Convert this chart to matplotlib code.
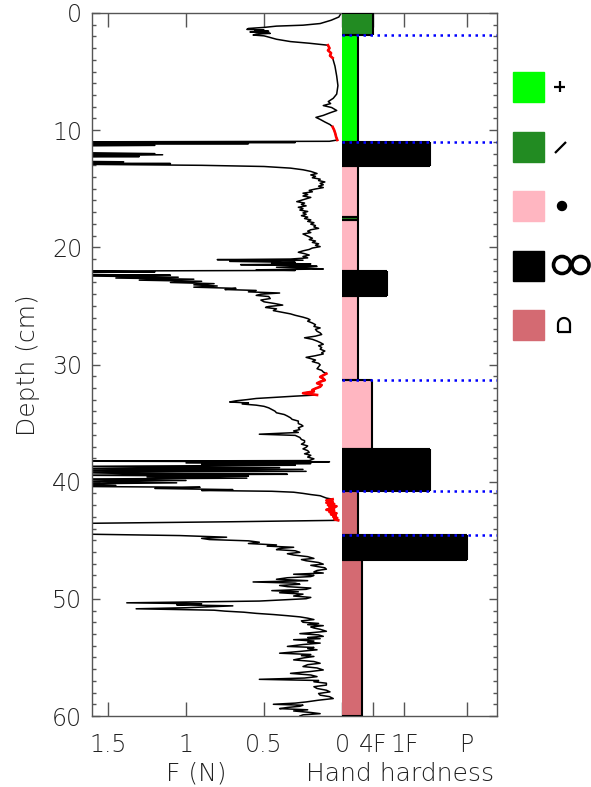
import matplotlib
matplotlib.use('Agg')
import matplotlib.pyplot as plt
from matplotlib.patches import Rectangle, Circle, PathPatch
from matplotlib.path import Path
import numpy as np

# penetration force profile (depth in cm, force in N)
profile_depth = [
    0.0, 0.11, 0.34, 0.62, 0.9, 1.04, 1.12, 1.23, 1.32, 1.4,
    1.45, 1.51, 1.56, 1.62, 1.68, 1.74, 1.8, 1.88, 1.95, 2.02,
    2.24, 2.44, 2.58, 2.75, 3.0, 3.19, 3.42, 3.64, 3.84, 4.54,
    5.38, 6.2, 6.92, 7.28, 7.56, 7.73, 7.9, 8.07, 8.32, 8.52,
    8.74, 8.91, 9.08, 9.3, 9.52, 9.72, 10.0, 10.28, 10.56, 10.84,
    10.95, 11.0, 11.05, 11.1, 11.15, 11.2, 11.3, 11.35, 11.9, 12.0,
    12.05, 12.1, 12.2, 12.25, 12.3, 12.65, 12.7, 12.8, 12.85, 12.9,
    13.0, 13.1, 13.24, 13.38, 13.52, 13.7, 13.82, 13.94, 14.06, 14.18,
    14.3, 14.42, 14.54, 14.66, 14.78, 14.9, 15.02, 15.14, 15.26, 15.38,
    15.5, 15.62, 15.74, 15.86, 15.98, 16.1, 16.22, 16.34, 16.46, 16.58,
    16.7, 16.82, 16.94, 17.06, 17.18, 17.3, 17.42, 17.54, 17.66, 17.78,
    17.9, 18.02, 18.14, 18.26, 18.38, 18.5, 18.62, 18.74, 18.86, 18.98,
    19.1, 19.22, 19.34, 19.46, 19.58, 19.7, 19.82, 19.94, 20.06, 20.18,
    20.3, 20.42, 20.54, 20.66, 20.78, 20.9, 21.0, 21.05, 21.1, 21.2,
    21.28, 21.35, 21.42, 21.48, 21.55, 21.62, 21.7, 21.78, 21.85, 21.92,
    21.97, 22.03, 22.1, 22.15, 22.3, 22.38, 22.45, 22.55, 22.62, 22.72,
    22.8, 22.9, 23.0, 23.1, 23.2, 23.3, 23.4, 23.5, 23.6, 23.68,
    23.8, 23.9, 24.0, 24.1, 24.2, 24.37, 24.5, 24.65, 24.8, 24.93,
    25.05, 25.13, 25.25, 25.4, 25.55, 25.68, 25.8, 25.96, 26.08, 26.18,
    26.3, 26.46, 26.6, 26.75, 26.88, 27.0, 27.16, 27.3, 27.44, 27.58,
    27.72, 27.85, 28.0, 28.12, 28.27, 28.4, 28.55, 28.69, 28.85, 29.0,
    29.1, 29.25, 29.39, 29.5, 29.62, 29.75, 29.9, 30.03, 30.2, 30.36,
    30.5, 30.64, 30.78, 30.92, 31.06, 31.2, 31.34, 31.47, 31.6, 31.75,
    31.9, 32.05, 32.17, 32.3, 32.45, 32.6, 32.7, 32.8, 32.9, 33.0,
    33.1, 33.2, 33.28, 33.37, 33.47, 33.57, 33.7, 33.84, 33.98, 34.12,
    34.27, 34.4, 34.55, 34.68, 34.83, 35.04, 35.15, 35.25, 35.4, 35.55,
    35.67, 35.8, 35.95, 36.05, 36.23, 36.4, 36.5, 36.65, 36.8, 36.95,
    37.07, 37.2, 37.35, 37.5, 37.62, 37.75, 37.9, 38.05, 38.2, 38.25,
    38.3, 38.4, 38.45, 38.52, 38.6, 38.7, 38.8, 38.9, 38.95, 39.05,
    39.12, 39.2, 39.3, 39.37, 39.45, 39.52, 39.6, 39.7, 39.78, 39.9,
    39.98, 40.1, 40.2, 40.32, 40.4, 40.48, 40.58, 40.68, 40.75, 40.82,
    40.9, 41.0, 41.1, 41.2, 41.3, 41.4, 41.5, 41.6, 41.7, 41.8,
    41.9, 42.0, 42.1, 42.2, 42.3, 42.4, 42.5, 42.6, 42.7, 42.8,
    42.9, 43.0, 43.1, 43.2, 43.3, 43.35, 43.42, 43.5, 43.58, 44.45,
    44.6, 44.74, 44.84, 44.94, 45.05, 45.17, 45.28, 45.4, 45.5, 45.6,
    45.7, 45.8, 45.9, 46.03, 46.15, 46.26, 46.4, 46.55, 46.65, 46.75,
    46.9, 47.04, 47.14, 47.24, 47.35, 47.47, 47.58, 47.7, 47.8, 47.9,
    48.0, 48.1, 48.2, 48.33, 48.45, 48.56, 48.66, 48.76, 48.86, 48.96,
    49.08, 49.19, 49.3, 49.4, 49.48, 49.6, 49.76, 49.88, 49.99, 50.1,
    50.19, 50.34, 50.42, 50.51, 50.6, 50.68, 50.76, 50.85, 50.97, 51.05,
    51.14, 51.24, 51.34, 51.44, 51.54, 51.65, 51.77, 51.88, 52.0, 52.1,
    52.2, 52.29, 52.4, 52.49, 52.6, 52.77, 52.87, 52.97, 53.08, 53.2,
    53.3, 53.4, 53.49, 53.6, 53.7, 53.78, 53.9, 54.06, 54.15, 54.25,
    54.35, 54.5, 54.64, 54.75, 54.85, 54.92, 55.05, 55.21, 55.35, 55.5,
    55.62, 55.78, 55.9, 56.07, 56.2, 56.36, 56.5, 56.64, 56.76, 56.87,
    56.97, 57.08, 57.2, 57.36, 57.5, 57.65, 57.8, 57.94, 58.08, 58.22,
    58.35, 58.51, 58.65, 58.8, 58.9, 59.0, 59.08, 59.17, 59.27, 59.37,
    59.47, 59.57, 59.7, 59.8, 59.9, 60.0,
]
profile_force = [
    0.005, 0.01, 0.02, 0.07, 0.14, 0.25, 0.42, 0.5, 0.6, 0.61,
    0.5, 0.56, 0.47, 0.59, 0.5, 0.46, 0.55, 0.57, 0.5, 0.48,
    0.42, 0.33, 0.21, 0.09, 0.08, 0.09, 0.07, 0.077, 0.06, 0.045,
    0.034, 0.026, 0.034, 0.056, 0.088, 0.073, 0.12, 0.066, 0.034, 0.077,
    0.12, 0.167, 0.14, 0.11, 0.077, 0.06, 0.05, 0.043, 0.038, 0.03,
    0.08, 1.8, 0.3, 1.8, 0.6, 1.8, 1.2, 1.8, 1.8, 1.2,
    1.8, 1.15, 1.8, 1.3, 1.8, 1.8, 1.4, 1.8, 1.1, 1.8,
    0.9, 0.5, 0.33, 0.25, 0.2, 0.16, 0.2, 0.17, 0.19, 0.14,
    0.15, 0.11, 0.14, 0.12, 0.15, 0.12, 0.17, 0.21, 0.19, 0.25,
    0.22, 0.25, 0.2, 0.23, 0.26, 0.29, 0.24, 0.26, 0.23, 0.28,
    0.25, 0.27, 0.22, 0.25, 0.23, 0.26, 0.22, 0.24, 0.2, 0.22,
    0.18, 0.2, 0.17, 0.18, 0.15, 0.2, 0.22, 0.2, 0.25, 0.23,
    0.21, 0.19, 0.21, 0.17, 0.19, 0.15, 0.17, 0.14, 0.19, 0.21,
    0.25, 0.28, 0.24, 0.21, 0.25, 0.22, 0.33, 0.8, 0.25, 0.72,
    0.3, 0.45, 0.2, 0.65, 0.3, 0.16, 0.42, 0.2, 0.12, 0.55,
    0.3, 1.8, 1.2, 1.8, 1.8, 1.1, 1.6, 1.05, 1.45, 0.95,
    1.3, 0.9, 1.1, 0.82, 0.95, 0.8, 0.95, 0.68, 0.75, 0.55,
    0.6, 0.4, 0.52, 0.55, 0.47, 0.46, 0.52, 0.5, 0.43, 0.38,
    0.47, 0.49, 0.42, 0.44, 0.38, 0.33, 0.3, 0.25, 0.22, 0.205,
    0.22, 0.19, 0.17, 0.18, 0.14, 0.17, 0.16, 0.14, 0.13, 0.17,
    0.24, 0.19, 0.16, 0.14, 0.12, 0.15, 0.13, 0.14, 0.11, 0.13,
    0.12, 0.17, 0.23, 0.2, 0.17, 0.19, 0.15, 0.14, 0.15, 0.16,
    0.13, 0.12, 0.1, 0.12, 0.14, 0.12, 0.11, 0.14, 0.16, 0.13,
    0.14, 0.17, 0.19, 0.18, 0.25, 0.16, 0.3, 0.42, 0.55, 0.61,
    0.68, 0.72, 0.6, 0.64, 0.55, 0.5, 0.47, 0.45, 0.43, 0.42,
    0.37, 0.35, 0.33, 0.32, 0.28, 0.28, 0.26, 0.25, 0.28, 0.27,
    0.31, 0.28, 0.53, 0.3, 0.27, 0.26, 0.24, 0.24, 0.26, 0.22,
    0.23, 0.25, 0.22, 0.21, 0.24, 0.2, 0.22, 0.18, 0.21, 1.8,
    0.08, 1.0, 0.2, 0.9, 0.3, 1.8, 0.4, 1.8, 0.25, 1.6,
    0.23, 1.8, 1.4, 0.35, 1.8, 0.6, 1.25, 0.61, 1.8, 1.0,
    1.8, 1.06, 1.8, 1.45, 1.8, 0.91, 1.2, 0.7, 0.9, 0.45,
    0.31, 0.25, 0.2, 0.14, 0.12, 0.1, 0.06, 0.1, 0.06, 0.1,
    0.05, 0.09, 0.035, 0.08, 0.05, 0.1, 0.05, 0.08, 0.035, 0.07,
    0.04, 0.056, 0.03, 0.05, 0.024, 0.3, 0.7, 1.25, 1.8, 1.8,
    1.04, 0.74, 0.9, 0.85, 0.6, 0.53, 0.6, 0.42, 0.48, 0.31,
    0.4, 0.42, 0.3, 0.27, 0.35, 0.31, 0.22, 0.18, 0.26, 0.23,
    0.15, 0.12, 0.2, 0.16, 0.11, 0.1, 0.16, 0.18, 0.12, 0.31,
    0.18, 0.2, 0.35, 0.42, 0.22, 0.57, 0.3, 0.27, 0.4, 0.35,
    0.2, 0.23, 0.45, 0.28, 0.4, 0.25, 0.31, 0.2, 0.23, 0.4,
    0.53, 1.38, 0.9, 1.06, 0.7, 0.85, 1.0, 1.32, 0.82, 0.75,
    0.63, 0.55, 0.44, 0.35, 0.27, 0.22, 0.18, 0.26, 0.25, 0.15,
    0.22, 0.12, 0.2, 0.18, 0.14, 0.1, 0.18, 0.27, 0.15, 0.12,
    0.22, 0.14, 0.31, 0.18, 0.22, 0.14, 0.25, 0.35, 0.18, 0.22,
    0.16, 0.28, 0.4, 0.2, 0.26, 0.18, 0.25, 0.31, 0.18, 0.14,
    0.22, 0.25, 0.16, 0.12, 0.2, 0.33, 0.2, 0.16, 0.24, 0.53,
    0.15, 0.18, 0.1, 0.1, 0.18, 0.16, 0.1, 0.077, 0.15, 0.14,
    0.08, 0.056, 0.15, 0.23, 0.3, 0.44, 0.25, 0.27, 0.35, 0.4,
    0.22, 0.31, 0.2, 0.14, 0.25, 0.27,
]
# depth ranges where the profile is drawn in red
red_ranges = [(2.7, 3.9), (9.7, 10.85), (30.75, 32.6), (41.45, 43.3)]

# layers: top, bottom (cm), hand hardness (plotted as N to the right of 0), colour
layer_top = [0.0, 1.85, 11.0, 13.1, 17.45, 17.7, 22.05, 24.15, 31.35, 37.2, 40.8, 44.55, 46.7]
layer_bottom = [1.85, 11.0, 13.1, 17.45, 17.7, 22.05, 24.15, 31.35, 37.2, 40.8, 44.55, 46.7, 60.0]
layer_hardness = [0.2, 0.1, 0.565, 0.1, 0.1, 0.1, 0.29, 0.1, 0.19, 0.565, 0.1, 0.8, 0.13]
layer_color = ['#228B22', '#00FF00', '#000000', '#FFB6C1', '#228B22', '#FFB6C1', '#000000',
               '#FFB6C1', '#FFB6C1', '#000000', '#D46A72', '#000000', '#D46A72']
boundary_depths = [1.85, 11.0, 31.35, 40.8, 44.55]

force_ticks = [1.5, 1.0, 0.5, 0.0]
force_labels = ['1.5', '1', '0.5', '0']
hardness_ticks = [0.2, 0.4, 0.8]
hardness_labels = ['4F', '1F', 'P']

legend_colors = ['#00FF00', '#228B22', '#FFB6C1', '#000000', '#D46A72']

plt.rcParams['font.family'] = 'DejaVu Sans'
plt.rcParams['font.weight'] = 'light'
txt_color = '#222222'

fig = plt.figure(figsize=(5.91, 7.87), dpi=100)
ax = fig.add_axes([92 / 591, 71 / 787, 405 / 591, 703 / 787])

d = np.array(profile_depth)
f = np.array(profile_force)
ax.plot(f, d, color='black', lw=1.1, zorder=2)
for lo, hi in red_ranges:
    m = (d >= lo) & (d <= hi)
    ax.plot(f[m], d[m], color='red', lw=1.9, zorder=2.2)

top = np.array(layer_top)
bot = np.array(layer_bottom)
hard = -np.array(layer_hardness)
ax.barh(top, hard, height=bot - top, left=0, align='edge', color=layer_color,
        edgecolor='none', zorder=3)
ax.vlines(hard, top, bot, colors='black', lw=1.5, zorder=4)
ax.hlines(top, 0, hard, colors='black', lw=1.5, zorder=4)
ax.hlines(bot, 0, hard, colors='black', lw=1.5, zorder=4)

ax.set_xlim(1.603, -0.994)
ax.set_ylim(60, 0)
ax.hlines(boundary_depths, 0, -0.994, colors='#0000FF', lw=1.8,
          linestyles=[(0, (1, 1.8))], zorder=5)

ax.set_xticks(force_ticks + [-h for h in hardness_ticks])
ax.set_xticklabels(force_labels + hardness_labels)
ax.set_yticks(range(0, 61, 10))
ax.set_yticks(range(0, 61, 1), minor=True)
ax.set_axisbelow(True)
ax.tick_params(axis='x', which='major', direction='in', length=10, width=1,
               top=True, bottom=True, color='#555555', labelsize=17, pad=12,
               labelcolor=txt_color)
ax.tick_params(axis='y', which='major', direction='in', length=6, width=1,
               left=True, right=True, color='#555555', labelsize=17, pad=7,
               labelcolor=txt_color)
ax.tick_params(axis='y', which='minor', direction='in', length=3, width=1,
               left=True, right=True, color='#555555')
for s in ax.spines.values():
    s.set_color('#555555')
    s.set_linewidth(1)

fig.text(196 / 591, 1 - 774 / 787, 'F (N)', ha='center', va='center',
         fontsize=18, color=txt_color)
fig.text(400 / 591, 1 - 774 / 787, 'Hand hardness', ha='center', va='center',
         fontsize=18, color=txt_color)
fig.text(28 / 591, 1 - 365 / 787, 'Depth (cm)', ha='center', va='center',
         rotation=90, fontsize=18, color=txt_color)

# legend, drawn in pixel coordinates
lax = fig.add_axes([0, 0, 1, 1])
lax.set_xlim(0, 591)
lax.set_ylim(787, 0)
lax.axis('off')
for i, c in enumerate(legend_colors):
    lax.add_patch(Rectangle((513, 72 + i * 59.5), 31, 30, color=c))

k = dict(color='black', lw=1.6, solid_capstyle='butt')
lax.plot([554, 565], [86.5, 86.5], **k)
lax.plot([559.5, 559.5], [81, 92], **k)
lax.plot([555, 566], [153, 142], **k)
lax.add_patch(Circle((562, 206), 4.5, color='black'))
for cx in (562, 580.5):
    lax.add_patch(Circle((cx, 265), 8.5, facecolor='white', edgecolor='black', lw=2.6))
arc = np.linspace(np.pi, 2 * np.pi, 20)
verts = [(558, 332)] + [(564 + 6 * np.cos(a), 324 + 6 * np.sin(a)) for a in arc] + [(570, 332), (558, 332)]
lax.add_patch(PathPatch(Path(verts), facecolor='white', edgecolor='black', lw=1.6))

fig.savefig('out.png', dpi=100)
